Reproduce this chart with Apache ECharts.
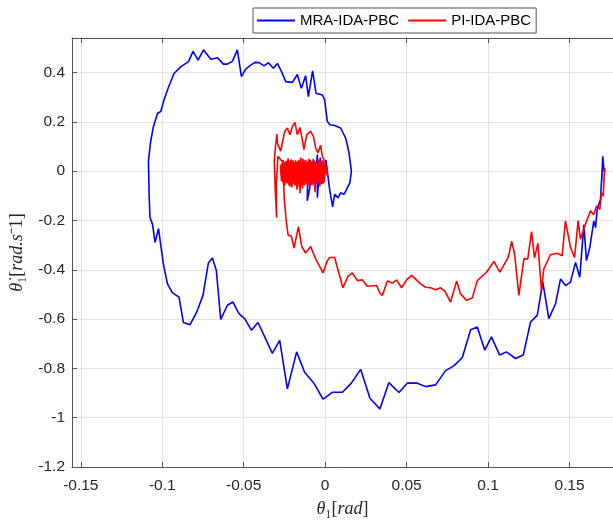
<!DOCTYPE html>
<html>
<head>
<meta charset="utf-8">
<title>phase portrait</title>
<script src="https://cdn.jsdelivr.net/npm/echarts@6/dist/echarts.min.js"></script>
<style>
  html, body { margin: 0; padding: 0; background: #fff; }
  #chart { width: 613px; height: 523px; }
</style>
</head>
<body>
<div id="chart"></div>
<script>
// tick values
const xTicks = [-0.15, -0.1, -0.05, 0, 0.05, 0.1, 0.15]
const yMin = -1.2
const yMax = 0.54
const xMin = -0.1554
const xMax = 0.1767

// MRA-IDA-PBC trajectory [theta, dtheta]
const mraPath = [
  [0.1712, 0.000], [0.1704, 0.060], [0.1698, -0.040], [0.1701, 0.010], [0.1690, -0.115],
  [0.1670, -0.155], [0.1660, -0.229], [0.1649, -0.202], [0.1625, -0.309], [0.1604, -0.363],
  [0.1588, -0.218], [0.1563, -0.430], [0.1537, -0.370], [0.1506, -0.450], [0.1475, -0.464],
  [0.1445, -0.437], [0.1414, -0.538], [0.1373, -0.598], [0.1336, -0.450], [0.1302, -0.585],
  [0.1261, -0.612], [0.1216, -0.746], [0.1169, -0.760], [0.1113, -0.733], [0.1071, -0.746],
  [0.1021, -0.672], [0.0980, -0.726], [0.0934, -0.632], [0.0893, -0.643], [0.0842, -0.756],
  [0.0790, -0.790], [0.0739, -0.809], [0.0678, -0.867], [0.0617, -0.874], [0.0566, -0.860],
  [0.0504, -0.860], [0.0453, -0.898], [0.0391, -0.858], [0.0336, -0.965], [0.0275, -0.921],
  [0.0218, -0.804], [0.0161, -0.860], [0.0106, -0.897], [0.0044, -0.897], [-0.0013, -0.925],
  [-0.0069, -0.860], [-0.0126, -0.816], [-0.0175, -0.733], [-0.0232, -0.883], [-0.0279, -0.686],
  [-0.0324, -0.739], [-0.0412, -0.614], [-0.0453, -0.645], [-0.0494, -0.598], [-0.0529, -0.578],
  [-0.0566, -0.531], [-0.0600, -0.544], [-0.0641, -0.601], [-0.0668, -0.403], [-0.0692, -0.352],
  [-0.0717, -0.373], [-0.0750, -0.504], [-0.0788, -0.571], [-0.0829, -0.623], [-0.0870, -0.614],
  [-0.0897, -0.511], [-0.0937, -0.494], [-0.0968, -0.457], [-0.0993, -0.377], [-0.1023, -0.233],
  [-0.1044, -0.289], [-0.1060, -0.215], [-0.1075, -0.188], [-0.1081, -0.094], [-0.1081, -0.067],
  [-0.1085, 0.040], [-0.1071, 0.121], [-0.1054, 0.181], [-0.1029, 0.235], [-0.1009, 0.242],
  [-0.0989, 0.289], [-0.0964, 0.336], [-0.0928, 0.396], [-0.0887, 0.423], [-0.0839, 0.444],
  [-0.0811, 0.486], [-0.0780, 0.450], [-0.0747, 0.492], [-0.0702, 0.454], [-0.0661, 0.460],
  [-0.0625, 0.434], [-0.0600, 0.434], [-0.0569, 0.446], [-0.0539, 0.492], [-0.0514, 0.383],
  [-0.0488, 0.414], [-0.0457, 0.430], [-0.0431, 0.441], [-0.0406, 0.440], [-0.0375, 0.427],
  [-0.0348, 0.440], [-0.0318, 0.417], [-0.0293, 0.437], [-0.0267, 0.403], [-0.0242, 0.363],
  [-0.0201, 0.360], [-0.0171, 0.392], [-0.0146, 0.336], [-0.0120, 0.387], [-0.0103, 0.302],
  [-0.0077, 0.407], [-0.0056, 0.316], [-0.0017, 0.309], [-0.0003, 0.289], [0.0013, 0.202],
  [0.0029, 0.188], [0.0058, 0.185], [0.0095, 0.175], [0.0126, 0.134], [0.0136, 0.107],
  [0.0146, 0.074], [0.0156, 0.027], [0.0161, 0.000], [0.0152, -0.047], [0.0132, -0.074],
  [0.0115, -0.094], [0.0095, -0.088], [0.0079, -0.108], [0.0058, -0.094], [0.0046, -0.145],
  [0.0029, -0.081], [0.0017, -0.020], [0.0005, 0.045], [-0.0012, -0.050], [-0.0030, 0.055],
  [-0.0048, -0.108], [-0.0048, 0.067], [-0.0065, -0.060], [-0.0080, 0.040], [-0.0095, -0.070],
  [-0.0110, -0.120], [-0.0105, 0.030], [-0.0090, -0.050], [-0.0070, 0.045], [-0.0050, -0.040],
  [-0.0030, 0.035], [-0.0015, -0.030], [0.0000, 0.025], [-0.0010, -0.020], [-0.0005, 0.010]
]

// PI-IDA-PBC trajectory [theta, dtheta]
const piPath = [
  [0.1718, -0.005], [0.1715, 0.013], [0.1707, -0.101], [0.1696, -0.088], [0.1686, -0.155],
  [0.1666, -0.141], [0.1649, -0.177], [0.1629, -0.161], [0.1598, -0.215], [0.1567, -0.276],
  [0.1553, -0.202], [0.1531, -0.350], [0.1506, -0.309], [0.1475, -0.202], [0.1455, -0.343],
  [0.1424, -0.333], [0.1383, -0.339], [0.1342, -0.397], [0.1328, -0.484], [0.1306, -0.293],
  [0.1285, -0.352], [0.1267, -0.245], [0.1244, -0.356], [0.1220, -0.356], [0.1189, -0.504],
  [0.1163, -0.336], [0.1145, -0.285], [0.1124, -0.350], [0.1072, -0.410], [0.1036, -0.366],
  [0.0991, -0.410], [0.0934, -0.444], [0.0903, -0.515], [0.0868, -0.524], [0.0831, -0.498],
  [0.0807, -0.446], [0.0770, -0.531], [0.0735, -0.487], [0.0709, -0.473], [0.0678, -0.481],
  [0.0647, -0.473], [0.0617, -0.471], [0.0586, -0.457], [0.0531, -0.423], [0.0500, -0.441],
  [0.0469, -0.473], [0.0439, -0.441], [0.0412, -0.454], [0.0382, -0.446], [0.0351, -0.504],
  [0.0336, -0.495], [0.0316, -0.464], [0.0259, -0.467], [0.0228, -0.441], [0.0198, -0.444],
  [0.0167, -0.413], [0.0140, -0.427], [0.0109, -0.473], [0.0058, -0.350], [0.0029, -0.350],
  [0.0013, -0.363], [-0.0013, -0.413], [-0.0058, -0.356], [-0.0089, -0.306], [-0.0120, -0.332],
  [-0.0144, -0.305], [-0.0164, -0.225], [-0.0191, -0.312], [-0.0207, -0.265], [-0.0228, -0.258],
  [-0.0241, -0.188], [-0.0250, -0.120], [-0.0256, -0.040], [-0.0252, 0.030], [-0.0290, 0.060],
  [-0.0300, -0.060], [-0.0298, -0.188], [-0.0306, -0.080], [-0.0312, 0.040], [-0.0305, 0.100],
  [-0.0296, 0.150], [-0.0293, 0.114], [-0.0273, 0.081], [-0.0263, 0.114], [-0.0248, 0.161],
  [-0.0232, 0.175], [-0.0216, 0.148], [-0.0201, 0.181], [-0.0185, 0.198], [-0.0171, 0.148],
  [-0.0155, 0.177], [-0.0140, 0.127], [-0.0130, 0.087], [-0.0113, 0.148], [-0.0089, 0.161],
  [-0.0072, 0.141], [-0.0058, 0.094], [-0.0044, 0.074], [-0.0028, 0.105], [-0.0017, 0.060],
  [-0.0007, 0.047],
  // fast oscillation near the origin
  [-0.0010, 0.040], [-0.0018, -0.050], [-0.0025, 0.035], [-0.0032, -0.062], [-0.0040, 0.045],
  [-0.0046, -0.040], [-0.0055, 0.030], [-0.0062, -0.085], [-0.0070, 0.042], [-0.0078, -0.055],
  [-0.0085, 0.038], [-0.0093, -0.048], [-0.0100, 0.050], [-0.0108, -0.060], [-0.0116, 0.036],
  [-0.0123, -0.045], [-0.0131, 0.044], [-0.0139, -0.070], [-0.0147, 0.030], [-0.0154, -0.090],
  [-0.0162, 0.046], [-0.0170, -0.052], [-0.0177, 0.040], [-0.0185, -0.058], [-0.0193, 0.034],
  [-0.0200, -0.046], [-0.0208, 0.048], [-0.0216, -0.062], [-0.0224, 0.038], [-0.0231, -0.050],
  [-0.0239, 0.042], [-0.0247, -0.056], [-0.0255, 0.035], [-0.0262, -0.044], [-0.0270, 0.030],
  [-0.0266, -0.030], [-0.0258, 0.045], [-0.0251, -0.060], [-0.0243, 0.030], [-0.0235, -0.048],
  [-0.0227, 0.052], [-0.0220, -0.040], [-0.0212, 0.036], [-0.0204, -0.066], [-0.0197, 0.044],
  [-0.0189, -0.038], [-0.0181, 0.030], [-0.0173, -0.075], [-0.0166, 0.040], [-0.0158, -0.050],
  [-0.0150, 0.055], [-0.0143, -0.042], [-0.0135, 0.034], [-0.0127, -0.058], [-0.0119, 0.046],
  [-0.0112, -0.036], [-0.0104, 0.040], [-0.0096, -0.062], [-0.0089, 0.030], [-0.0081, -0.046],
  [-0.0073, 0.050], [-0.0066, -0.040], [-0.0058, 0.036], [-0.0050, -0.052], [-0.0043, 0.042],
  [-0.0035, -0.036], [-0.0027, 0.032], [-0.0020, -0.044], [-0.0012, 0.030], [-0.0005, -0.030],
  [0.0003, 0.038], [-0.0006, -0.045], [-0.0014, 0.044], [-0.0022, -0.052], [-0.0029, 0.040],
  [-0.0037, -0.048], [-0.0044, 0.050], [-0.0052, -0.044], [-0.0060, 0.040], [-0.0067, -0.050],
  [-0.0075, 0.036], [-0.0083, -0.058], [-0.0091, 0.046], [-0.0098, -0.044], [-0.0106, 0.038],
  [-0.0114, -0.052], [-0.0121, 0.042], [-0.0129, -0.048], [-0.0137, 0.050], [-0.0145, -0.056],
  [-0.0152, 0.040], [-0.0160, -0.064], [-0.0168, 0.036], [-0.0175, -0.046], [-0.0183, 0.044],
  [-0.0191, -0.054], [-0.0198, 0.040], [-0.0206, -0.050], [-0.0214, 0.044], [-0.0222, -0.058],
  [-0.0229, 0.046], [-0.0237, -0.040], [-0.0245, 0.038], [-0.0253, -0.052], [-0.0260, 0.036],
  [-0.0268, -0.040], [-0.0274, 0.020], [-0.0262, 0.010], [-0.0230, -0.015], [-0.0180, 0.012],
  [-0.0120, -0.010], [-0.0060, 0.008], [0.0010, 0.020], [0.0015, -0.020], [0.0005, 0.000]
]

const axisColor = '#555'
const labelStyle = { fontSize: 15.5, fontFamily: 'Liberation Sans', color: '#262626' }
const mathRich = {
  i: { fontFamily: 'Liberation Serif', fontStyle: 'italic', fontSize: 18, color: '#262626' },
  n: { fontFamily: 'Liberation Serif', fontSize: 18, color: '#262626' }
}

let chart = echarts.init(document.getElementById('chart'))
let option = {
  animation: false,
  grid: { left: 72, right: 0, top: 38, bottom: 52 },
  legend: {
    data: ['MRA-IDA-PBC', 'PI-IDA-PBC'],
    left: 253,
    top: 8,
    icon: 'rect',
    itemWidth: 38,
    itemHeight: 2,
    itemGap: 9,
    padding: [5, 5, 5, 4],
    borderColor: '#555',
    borderWidth: 1,
    backgroundColor: '#fff',
    textStyle: { fontSize: 15, fontFamily: 'Liberation Sans', color: '#000' }
  },
  xAxis: [
    {
      type: 'value',
      min: xMin,
      max: xMax,
      position: 'bottom',
      name: '{i|θ}{n|₁[}{i|rad}{n|]}',
      nameLocation: 'middle',
      nameGap: 33,
      nameTextStyle: { rich: mathRich },
      axisLine: { show: true, onZero: false, lineStyle: { color: axisColor } },
      axisTick: { show: true, inside: true, length: 5, customValues: xTicks, lineStyle: { color: axisColor } },
      axisLabel: { customValues: xTicks, margin: 11, ...labelStyle },
      splitLine: { show: true, lineStyle: { color: '#e3e3e3' } }
    },
    {
      type: 'value',
      min: xMin,
      max: xMax,
      position: 'top',
      axisLine: { show: true, onZero: false, lineStyle: { color: axisColor } },
      axisTick: { show: true, inside: true, length: 5, customValues: xTicks, lineStyle: { color: axisColor } },
      axisLabel: { show: false },
      splitLine: { show: false }
    }
  ],
  yAxis: {
    type: 'value',
    min: yMin,
    max: yMax,
    interval: 0.2,
    name: '{i|θ̇}{n|₁[}{i|rad.s}{n|⁻1]}',
    nameLocation: 'middle',
    nameRotate: 90,
    nameGap: 46,
    nameTextStyle: { rich: mathRich },
    axisLine: { show: true, onZero: false, lineStyle: { color: axisColor } },
    axisTick: { show: true, inside: true, length: 5, lineStyle: { color: axisColor } },
    axisLabel: { showMaxLabel: false, margin: 7, ...labelStyle },
    splitLine: { show: true, lineStyle: { color: '#e3e3e3' } }
  },
  series: [
    {
      name: 'MRA-IDA-PBC',
      type: 'line',
      data: mraPath,
      symbol: 'none',
      lineStyle: { width: 1.6, color: '#0000ff' },
      itemStyle: { color: '#0000ff' }
    },
    {
      name: 'PI-IDA-PBC',
      type: 'line',
      data: piPath,
      symbol: 'none',
      lineStyle: { width: 1.6, color: '#ff0000' },
      itemStyle: { color: '#ff0000' }
    }
  ]
}
chart.setOption(option)
</script>
</body>
</html>
